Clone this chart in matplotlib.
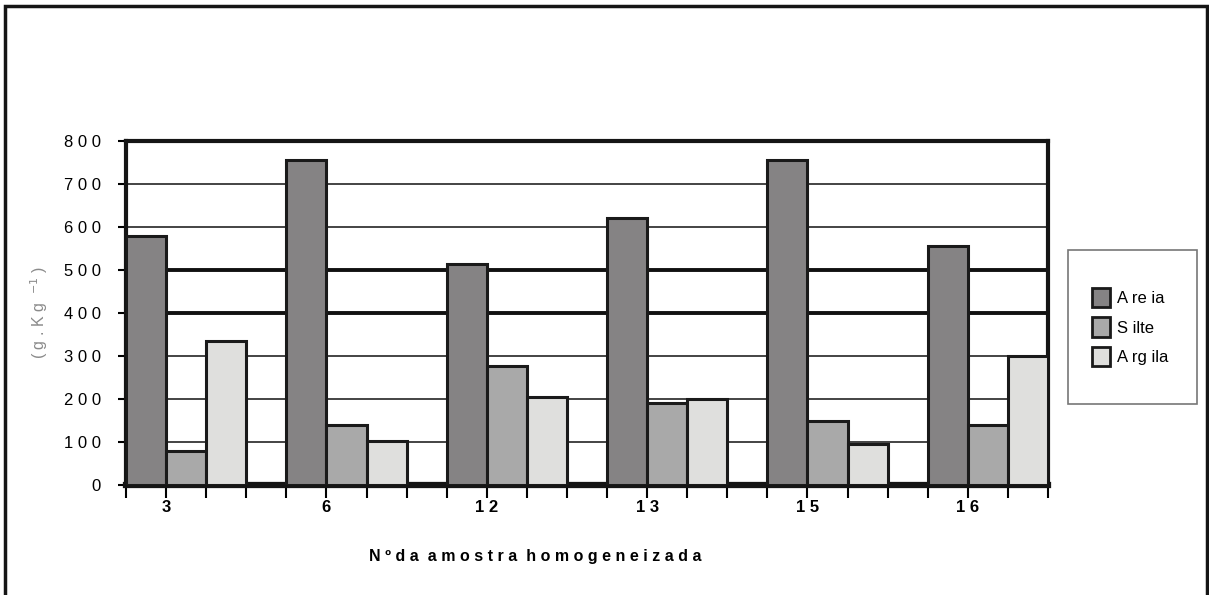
import numpy as np
import matplotlib
matplotlib.use('Agg')
import matplotlib.pyplot as plt
from matplotlib.patches import Rectangle, Patch

plt.rcParams['font.family'] = ['Liberation Sans Narrow', 'Liberation Sans', 'DejaVu Sans']

# dados
amostras = ['3', '6', '12', '13', '15', '16']
areia = [580, 755, 515, 620, 755, 555]
silte = [78, 140, 277, 190, 148, 140]
argila = [335, 102, 205, 200, 95, 300]
series = ['Areia', 'Silte', 'Argila']
cores = ['#858384', '#a9a9a9', '#dfdfdd']


def espaca(s):
    return ' '.join(list(s))


fig = plt.figure(figsize=(12.09, 5.95), dpi=100)
ax = fig.add_axes([126/1209, 1-485/595, (1048-126)/1209, (485-141)/595])

x = np.arange(len(amostras))
w = 0.25
for k, (vals, cor) in enumerate(zip([areia, silte, argila], cores)):
    ax.bar(x + k*w, vals, width=w, align='edge', color=cor,
           edgecolor='#1a1a1a', linewidth=2.2, zorder=3)

# linhas de grade
for yv in [100, 200, 300, 600, 700]:
    ax.axhline(yv, color='#111111', lw=1.1, zorder=1)
for yv in [400, 500]:
    ax.axhline(yv, color='#111111', lw=2.8, zorder=1)

ax.set_xlim(0, 5.75)
ax.set_ylim(0, 800)

for sp in ['top', 'left', 'right']:
    ax.spines[sp].set_linewidth(3)
    ax.spines[sp].set_color('#151515')
ax.spines['bottom'].set_linewidth(4.5)
ax.spines['bottom'].set_color('#151515')

ax.set_yticks(np.arange(0, 801, 100))
ax.set_yticklabels([espaca(str(v)) for v in range(0, 801, 100)], fontsize=12)
ax.tick_params(axis='y', direction='out', length=6, width=1.5, pad=12)

ax.set_xticks(np.arange(0, 5.76, 0.25))
ax.set_xticklabels([])
ax.tick_params(axis='x', direction='out', length=9, width=1.5)
for xi, lab in zip(x, amostras):
    ax.text(xi + 0.25, -52, espaca(lab), ha='center', va='center',
            fontsize=12, fontweight='bold')

ax.text(-0.54, 400, '( g . K g  $^{-1}$ )', rotation=90, ha='center',
        va='center', fontsize=11.5, color='#8a8a8a')

fig.text(535/1209, 1-556/595, 'N º d a  a m o s t r a  h o m o g e n e i z a d a',
         ha='center', va='center', fontsize=11.5, fontweight='bold')

# legenda (moldura desenhada a parte)
fig.patches.append(Rectangle((1068/1209, 1-404/595), 129/1209, 154/595,
                             transform=fig.transFigure, fill=False,
                             edgecolor='#777777', lw=1.2))
handles = [Patch(facecolor=c, edgecolor='#1a1a1a', linewidth=2) for c in cores]
leg = fig.legend(handles, ['A re ia', 'S ilte', 'A rg ila'],
                 loc='center', bbox_to_anchor=(1130/1209, 1-327/595),
                 frameon=False, fontsize=12,
                 handlelength=1.1, handleheight=1.4, handletextpad=0.4,
                 labelspacing=0.6, borderpad=0, borderaxespad=0)

# moldura da figura
fig.patches.append(Rectangle((5/1209, -0.05), 1202/1209, 1-6/595+0.05,
                             transform=fig.transFigure, fill=False,
                             edgecolor='#151515', lw=2.5))

fig.savefig('out.png', dpi=100, facecolor='white')
